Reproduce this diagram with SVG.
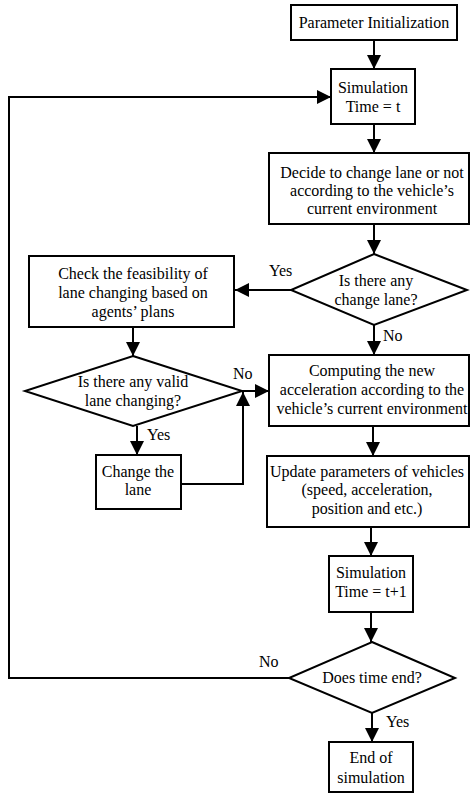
<svg xmlns="http://www.w3.org/2000/svg" width="471" height="794" viewBox="0 0 471 794">
<defs>
<marker id="ah" markerUnits="userSpaceOnUse" markerWidth="15" markerHeight="15" refX="14" refY="7" orient="auto" viewBox="0 0 15 15">
<path d="M0,0 L14,7 L0,14 z" fill="#000"/>
</marker>
</defs>
<style>
.box{fill:#fff;stroke:#000;stroke-width:2}
.t{font-family:"Liberation Serif","Times New Roman",serif;font-size:16px;fill:#000;text-anchor:middle}
.l{font-family:"Liberation Serif","Times New Roman",serif;font-size:16px;fill:#000}
.c{fill:none;stroke:#000;stroke-width:2}
</style>
<rect width="471" height="794" fill="#fff"/>
<g id="connectors">
<path class="c" d="M374,40 V69" marker-end="url(#ah)"/>
<path class="c" d="M289,678 H9 V97 H331" marker-end="url(#ah)"/>
<path class="c" d="M374,124 V153" marker-end="url(#ah)"/>
<path class="c" d="M374,224 V254" marker-end="url(#ah)"/>
<path class="c" d="M291,290 H235" marker-end="url(#ah)"/>
<path class="c" d="M374,325 V355" marker-end="url(#ah)"/>
<path class="c" d="M133,327 V356" marker-end="url(#ah)"/>
<path class="c" d="M242,391 H269" marker-end="url(#ah)"/>
<path class="c" d="M137,426 V455" marker-end="url(#ah)"/>
<path class="c" d="M181,484 H243 V392" marker-end="url(#ah)"/>
<path class="c" d="M373,426 V456" marker-end="url(#ah)"/>
<path class="c" d="M371,527 V556" marker-end="url(#ah)"/>
<path class="c" d="M371,612 V642" marker-end="url(#ah)"/>
<path class="c" d="M372,713 V742" marker-end="url(#ah)"/>
<text class="l" x="269" y="276">Yes</text>
<text class="l" x="383" y="341">No</text>
<text class="l" x="233" y="379">No</text>
<text class="l" x="147" y="440">Yes</text>
<text class="l" x="259" y="667">No</text>
<text class="l" x="386" y="727">Yes</text>
</g>
<g id="init">
<rect class="box" x="291" y="5" width="166" height="35"/>
<text class="t" x="374" y="28">Parameter Initialization</text>
</g>
<g id="simt">
<rect class="box" x="331" y="69" width="84" height="55"/>
<text class="t" x="373" y="93">Simulation</text>
<text class="t" x="373" y="112">Time = t</text>
</g>
<g id="decide">
<rect class="box" x="269" y="153" width="200" height="71"/>
<text class="t" x="372" y="178">Decide to change lane or not</text>
<text class="t" x="372" y="196">according to the vehicle’s</text>
<text class="t" x="372" y="214">current environment</text>
</g>
<g id="anychange">
<polygon class="box" points="374,254 467,290 374,325 291,290"/>
<text class="t" x="376" y="286">Is there any</text>
<text class="t" x="376" y="305">change lane?</text>
</g>
<g id="check">
<rect class="box" x="29" y="256" width="205" height="71"/>
<text class="t" x="133" y="279">Check the feasibility of</text>
<text class="t" x="133" y="298">lane changing based on</text>
<text class="t" x="133" y="317">agents’ plans</text>
</g>
<g id="valid">
<polygon class="box" points="133,356 242,391 133,426 25,391"/>
<text class="t" x="133" y="387">Is there any valid</text>
<text class="t" x="133" y="406">lane changing?</text>
</g>
<g id="computing">
<rect class="box" x="269" y="355" width="200" height="71"/>
<text class="t" x="372" y="376">Computing the new</text>
<text class="t" x="372" y="395">acceleration according to the</text>
<text class="t" x="372" y="414">vehicle’s current environment</text>
</g>
<g id="change">
<rect class="box" x="96" y="455" width="85" height="54"/>
<text class="t" x="138" y="477">Change the</text>
<text class="t" x="138" y="495">lane</text>
</g>
<g id="update">
<rect class="box" x="267" y="456" width="202" height="71"/>
<text class="t" x="367" y="477">Update parameters of vehicles</text>
<text class="t" x="367" y="495">(speed, acceleration,</text>
<text class="t" x="367" y="514">position and etc.)</text>
</g>
<g id="simt1">
<rect class="box" x="329" y="556" width="84" height="56"/>
<text class="t" x="371" y="578">Simulation</text>
<text class="t" x="371" y="597">Time = t+1</text>
</g>
<g id="timeend">
<polygon class="box" points="372,642 455,678 372,713 289,678"/>
<text class="t" x="372" y="683">Does time end?</text>
</g>
<g id="end">
<rect class="box" x="329" y="742" width="84" height="50"/>
<text class="t" x="371" y="763">End of</text>
<text class="t" x="371" y="783">simulation</text>
</g>
</svg>
